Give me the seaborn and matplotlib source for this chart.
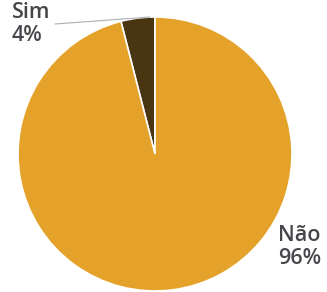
import matplotlib
matplotlib.use("Agg")
import matplotlib.pyplot as plt
import seaborn as sns

sns.set_theme(style="white")
plt.rcParams['font.family'] = ['Open Sans', 'DejaVu Sans']

categories = ["Sim", "Não"]
values = [4, 96]
colors = ["#4A3513", "#E5A22A"]

W, H = 327, 292
fig = plt.figure(figsize=(W / 100, H / 100), dpi=100)
cx, cy, r = 155, 154, 137
ax = fig.add_axes([(cx - r) / W, (H - cy - r) / H, 2 * r / W, 2 * r / H])
ax.pie(values, colors=colors, startangle=90, counterclock=True,
       wedgeprops=dict(edgecolor="white", linewidth=1.2))
ax.set_xlim(-1, 1)
ax.set_ylim(-1, 1)
ax.set_aspect("equal")
ax.axis("off")

tc = "#45474A"
labels = [f"{c}\n{v}%" for c, v in zip(categories, values)]
fig.text(12 / W, 1 - 2 / H, labels[0], ha="left", va="top", color=tc,
         fontsize=15.5, fontweight="semibold", linespacing=1.12)
fig.text(278 / W, 1 - 225 / H, labels[1], ha="left", va="top", color=tc,
         fontsize=15.5, fontweight="semibold", linespacing=1.12)
# leader line for Sim
fig.add_artist(plt.Line2D([55 / W, 150 / W], [1 - 24 / H, 1 - 17 / H],
                          color="#AAB0B5", linewidth=0.8, transform=fig.transFigure))

fig.savefig("out.png", dpi=100)
